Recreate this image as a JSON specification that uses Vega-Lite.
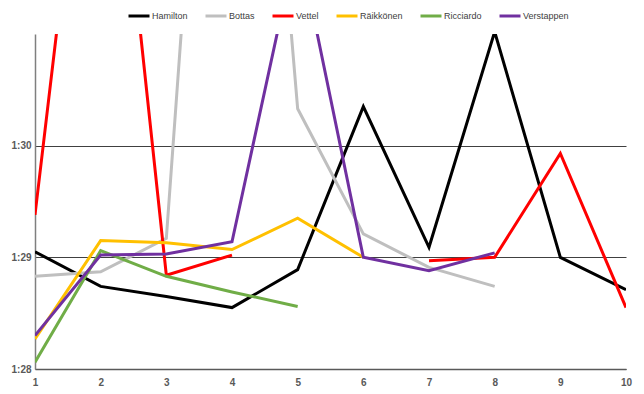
{
  "$schema": "https://vega.github.io/schema/vega-lite/v6.json",
  "autosize": "none",
  "width": 591,
  "height": 335,
  "padding": {"left": 35, "top": 34, "right": 18, "bottom": 25},
  "background": "white",
  "config": {"view": {"stroke": null}, "font": "Liberation Sans"},
  "data": {"values": [
    {"lap": 1, "driver": "Hamilton", "t": 89.05},
    {"lap": 2, "driver": "Hamilton", "t": 88.74},
    {"lap": 3, "driver": "Hamilton", "t": 88.65},
    {"lap": 4, "driver": "Hamilton", "t": 88.55},
    {"lap": 5, "driver": "Hamilton", "t": 88.89},
    {"lap": 6, "driver": "Hamilton", "t": 90.35},
    {"lap": 7, "driver": "Hamilton", "t": 89.09},
    {"lap": 8, "driver": "Hamilton", "t": 91.02},
    {"lap": 9, "driver": "Hamilton", "t": 89.0},
    {"lap": 10, "driver": "Hamilton", "t": 88.71},
    {"lap": 1, "driver": "Bottas", "t": 88.83},
    {"lap": 2, "driver": "Bottas", "t": 88.87},
    {"lap": 3, "driver": "Bottas", "t": 89.17},
    {"lap": 4, "driver": "Bottas", "t": 97.3},
    {"lap": 5, "driver": "Bottas", "t": 90.33},
    {"lap": 6, "driver": "Bottas", "t": 89.21},
    {"lap": 7, "driver": "Bottas", "t": 88.91},
    {"lap": 8, "driver": "Bottas", "t": 88.74},
    {"lap": 1, "driver": "Vettel", "t": 89.38},
    {"lap": 2, "driver": "Vettel", "t": 94.35},
    {"lap": 3, "driver": "Vettel", "t": 88.84},
    {"lap": 4, "driver": "Vettel", "t": 89.02},
    {"lap": 5, "driver": "Vettel", "t": null},
    {"lap": 6, "driver": "Vettel", "t": null},
    {"lap": 7, "driver": "Vettel", "t": 88.97},
    {"lap": 8, "driver": "Vettel", "t": 89.0},
    {"lap": 9, "driver": "Vettel", "t": 89.93},
    {"lap": 10, "driver": "Vettel", "t": 88.55},
    {"lap": 1, "driver": "Räikkönen", "t": 88.27},
    {"lap": 2, "driver": "Räikkönen", "t": 89.15},
    {"lap": 3, "driver": "Räikkönen", "t": 89.13},
    {"lap": 4, "driver": "Räikkönen", "t": 89.07},
    {"lap": 5, "driver": "Räikkönen", "t": 89.35},
    {"lap": 6, "driver": "Räikkönen", "t": 89.0},
    {"lap": 1, "driver": "Ricciardo", "t": 88.06},
    {"lap": 2, "driver": "Ricciardo", "t": 89.06},
    {"lap": 3, "driver": "Ricciardo", "t": 88.83},
    {"lap": 4, "driver": "Ricciardo", "t": 88.69},
    {"lap": 5, "driver": "Ricciardo", "t": 88.56},
    {"lap": 1, "driver": "Verstappen", "t": 88.3},
    {"lap": 2, "driver": "Verstappen", "t": 89.02},
    {"lap": 3, "driver": "Verstappen", "t": 89.03},
    {"lap": 4, "driver": "Verstappen", "t": 89.14},
    {"lap": 5, "driver": "Verstappen", "t": 91.85},
    {"lap": 6, "driver": "Verstappen", "t": 89.0},
    {"lap": 7, "driver": "Verstappen", "t": 88.88},
    {"lap": 8, "driver": "Verstappen", "t": 89.04}
  ]},
  "mark": {"type": "line", "strokeWidth": 3, "clip": true, "invalid": "break-paths-show-domains"},
  "encoding": {
    "x": {
      "field": "lap", "type": "quantitative",
      "scale": {"domain": [1, 10], "nice": false, "zero": false},
      "axis": {
        "title": null, "values": [1,2,3,4,5,6,7,8,9,10], "format": "d",
        "grid": false, "ticks": false, "domainColor": "#595959", "domainWidth": 1.5,
        "labelColor": "#595959", "labelFontWeight": "bold", "labelFontSize": 10,
        "labelPadding": 8, "labelFlush": false
      }
    },
    "y": {
      "field": "t", "type": "quantitative",
      "scale": {"domain": [88, 91], "nice": false, "zero": false},
      "axis": {
        "title": null, "values": [88, 89, 90],
        "labelExpr": "floor(datum.value/60) + ':' + (datum.value % 60)",
        "grid": true, "gridColor": "#404040", "gridWidth": 1,
        "ticks": false, "domainColor": "#7f7f7f", "domainWidth": 1.5,
        "labelColor": "#595959", "labelFontWeight": "bold", "labelFontSize": 10,
        "labelPadding": 4
      }
    },
    "color": {
      "field": "driver", "type": "nominal",
      "scale": {
        "domain": ["Hamilton", "Bottas", "Vettel", "Räikkönen", "Ricciardo", "Verstappen"],
        "range": ["#000000", "#BFBFBF", "#FF0000", "#FFC000", "#70AD47", "#7030A0"]
      },
      "legend": {
        "orient": "none", "legendX": 92, "legendY": -30,
        "direction": "horizontal", "title": null,
        "symbolType": "stroke", "symbolStrokeWidth": 3, "symbolSize": 441,
        "labelFontSize": 9, "labelColor": "#404040", "labelFont": "Liberation Sans",
        "columnPadding": 11, "labelOffset": 1, "padding": 0
      }
    }
  }
}
